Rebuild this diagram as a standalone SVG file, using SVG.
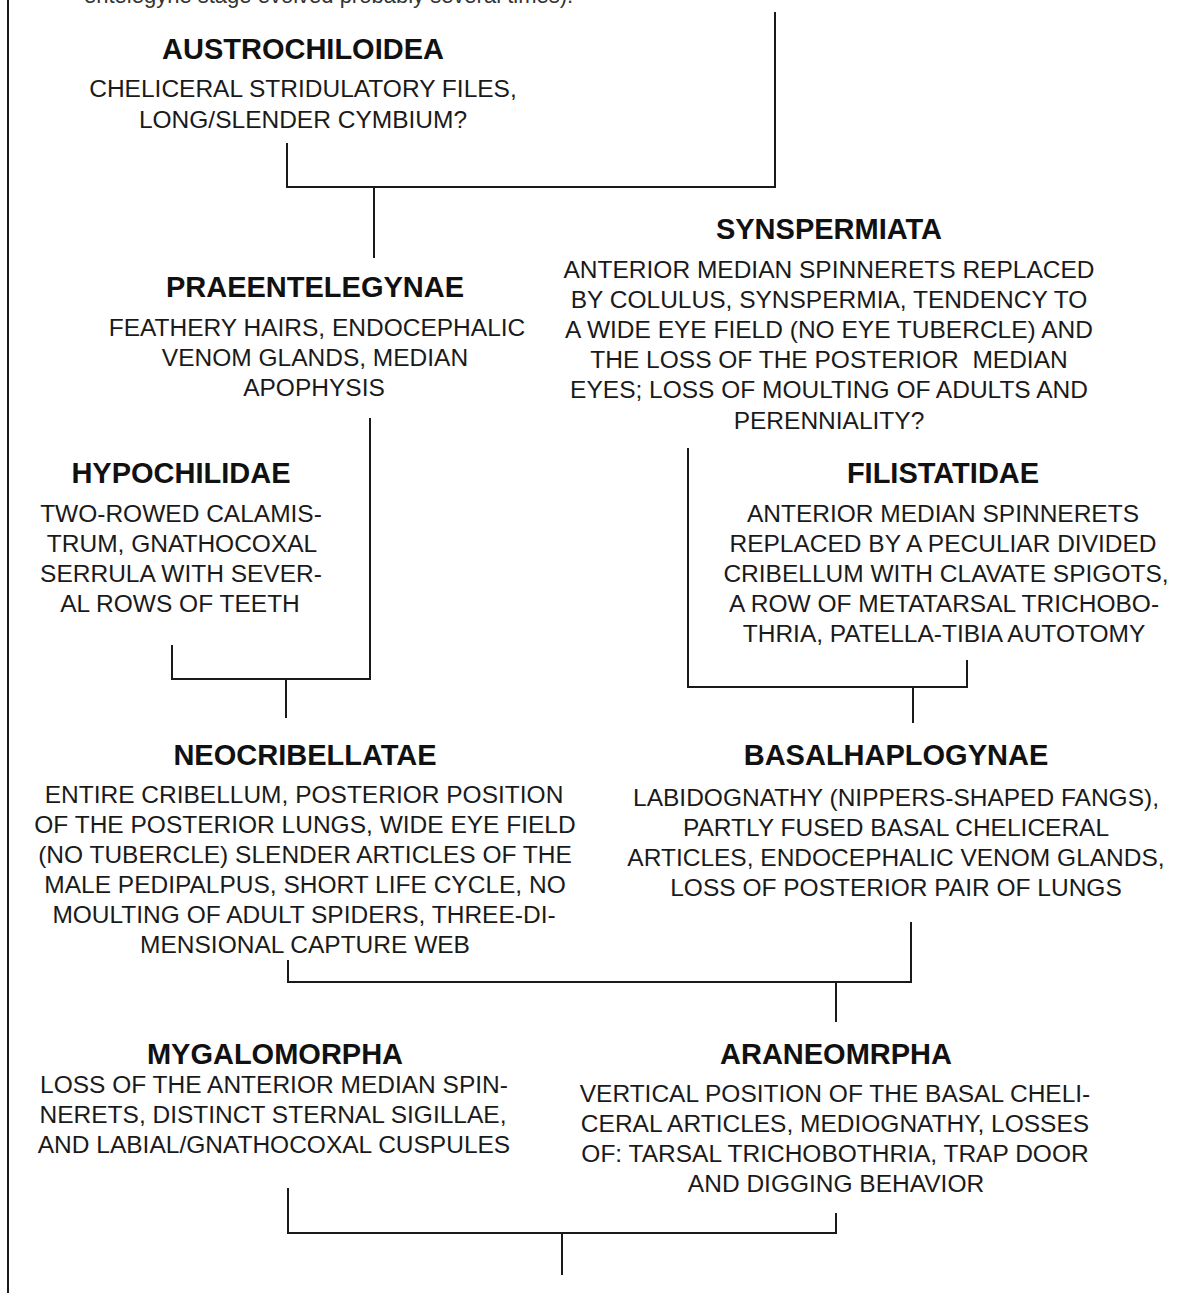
<svg xmlns="http://www.w3.org/2000/svg" width="1195" height="1293" viewBox="0 0 1195 1293">
<style>
.t{font-family:"Liberation Sans",Arial,sans-serif;font-weight:bold;font-size:29px;fill:#111;text-anchor:middle}
.b{font-family:"Liberation Sans",Arial,sans-serif;font-size:24.5px;fill:#1a1a1a;text-anchor:middle}
.top{font-family:"Liberation Sans",Arial,sans-serif;font-size:22px;fill:#333}
.c{stroke:#1a1a1a;stroke-width:2;fill:none}
</style>
<rect width="1195" height="1293" fill="#fff"/>
<text class="top" x="84" y="3">entelegyne stage evolved probably several times).</text>
<g id="connectors">
<path class="c" d="M8,0 V1293"/>
<path class="c" d="M775,12 V187 H287 V143"/>
<path class="c" d="M374,187 V258"/>
<path class="c" d="M370,418 V679 H172 V645"/>
<path class="c" d="M286,679 V718"/>
<path class="c" d="M688,448 V687 H967 V660"/>
<path class="c" d="M913,687 V723"/>
<path class="c" d="M288,960 V982 H911 V922"/>
<path class="c" d="M836,982 V1022"/>
<path class="c" d="M288,1188 V1233 H836 V1213"/>
<path class="c" d="M562,1233 V1275"/>
</g>
<g id="austrochiloidea">
<text class="t" x="303" y="59">AUSTROCHILOIDEA</text>
<text class="b" x="303" y="97">CHELICERAL STRIDULATORY FILES,</text>
<text class="b" x="303" y="128">LONG/SLENDER CYMBIUM?</text>
</g>
<g id="synspermiata">
<text class="t" x="829" y="239">SYNSPERMIATA</text>
<text class="b" x="829" y="278">ANTERIOR MEDIAN SPINNERETS REPLACED</text>
<text class="b" x="829" y="308">BY COLULUS, SYNSPERMIA, TENDENCY TO</text>
<text class="b" x="829" y="338">A WIDE EYE FIELD (NO EYE TUBERCLE) AND</text>
<text class="b" x="829" y="368" xml:space="preserve">THE LOSS OF THE POSTERIOR  MEDIAN</text>
<text class="b" x="829" y="398">EYES; LOSS OF MOULTING OF ADULTS AND</text>
<text class="b" x="829" y="429">PERENNIALITY?</text>
</g>
<g id="praeentelegynae">
<text class="t" x="315" y="297">PRAEENTELEGYNAE</text>
<text class="b" x="317" y="336">FEATHERY HAIRS, ENDOCEPHALIC</text>
<text class="b" x="315" y="366">VENOM GLANDS, MEDIAN</text>
<text class="b" x="314" y="396">APOPHYSIS</text>
</g>
<g id="hypochilidae">
<text class="t" x="181" y="483">HYPOCHILIDAE</text>
<text class="b" x="181" y="522">TWO-ROWED CALAMIS-</text>
<text class="b" x="182" y="552">TRUM, GNATHOCOXAL</text>
<text class="b" x="181" y="582">SERRULA WITH SEVER-</text>
<text class="b" x="180" y="612">AL ROWS OF TEETH</text>
</g>
<g id="filistatidae">
<text class="t" x="943" y="483">FILISTATIDAE</text>
<text class="b" x="943" y="522">ANTERIOR MEDIAN SPINNERETS</text>
<text class="b" x="943" y="552">REPLACED BY A PECULIAR DIVIDED</text>
<text class="b" x="946" y="582">CRIBELLUM WITH CLAVATE SPIGOTS,</text>
<text class="b" x="944" y="612">A ROW OF METATARSAL TRICHOBO-</text>
<text class="b" x="944" y="642">THRIA, PATELLA-TIBIA AUTOTOMY</text>
</g>
<g id="neocribellatae">
<text class="t" x="305" y="765">NEOCRIBELLATAE</text>
<text class="b" x="304" y="803">ENTIRE CRIBELLUM, POSTERIOR POSITION</text>
<text class="b" x="305" y="833">OF THE POSTERIOR LUNGS, WIDE EYE FIELD</text>
<text class="b" x="305" y="863">(NO TUBERCLE) SLENDER ARTICLES OF THE</text>
<text class="b" x="305" y="893">MALE PEDIPALPUS, SHORT LIFE CYCLE, NO</text>
<text class="b" x="304" y="923">MOULTING OF ADULT SPIDERS, THREE-DI-</text>
<text class="b" x="305" y="953">MENSIONAL CAPTURE WEB</text>
</g>
<g id="basalhaplogynae">
<text class="t" x="896" y="765">BASALHAPLOGYNAE</text>
<text class="b" x="896" y="806">LABIDOGNATHY (NIPPERS-SHAPED FANGS),</text>
<text class="b" x="896" y="836">PARTLY FUSED BASAL CHELICERAL</text>
<text class="b" x="896" y="866">ARTICLES, ENDOCEPHALIC VENOM GLANDS,</text>
<text class="b" x="896" y="896">LOSS OF POSTERIOR PAIR OF LUNGS</text>
</g>
<g id="mygalomorpha">
<text class="t" x="275" y="1064">MYGALOMORPHA</text>
<text class="b" x="274" y="1093">LOSS OF THE ANTERIOR MEDIAN SPIN-</text>
<text class="b" x="273" y="1123">NERETS, DISTINCT STERNAL SIGILLAE,</text>
<text class="b" x="274" y="1153">AND LABIAL/GNATHOCOXAL CUSPULES</text>
</g>
<g id="araneomrpha">
<text class="t" x="836" y="1064">ARANEOMRPHA</text>
<text class="b" x="835" y="1102">VERTICAL POSITION OF THE BASAL CHELI-</text>
<text class="b" x="835" y="1132">CERAL ARTICLES, MEDIOGNATHY, LOSSES</text>
<text class="b" x="835" y="1162">OF: TARSAL TRICHOBOTHRIA, TRAP DOOR</text>
<text class="b" x="836" y="1192">AND DIGGING BEHAVIOR</text>
</g>
</svg>
